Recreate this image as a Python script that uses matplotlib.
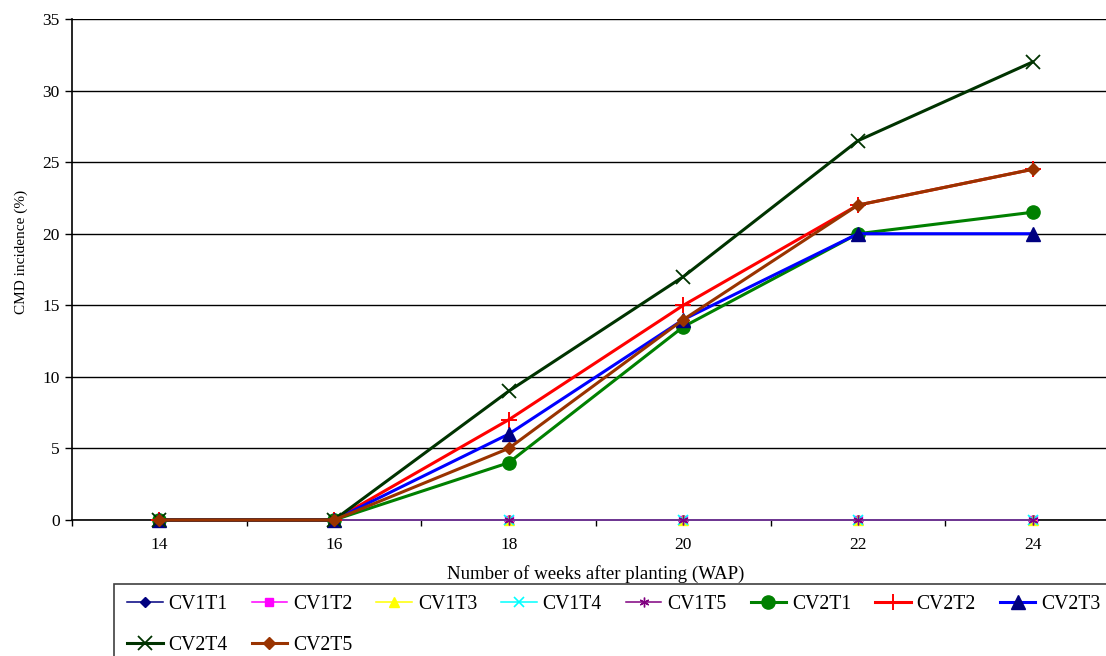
import matplotlib
matplotlib.use("Agg")
import matplotlib.pyplot as plt
from matplotlib.patches import Rectangle
from matplotlib.ticker import FixedLocator

plt.rcParams['font.family'] = ['Liberation Serif', 'DejaVu Serif']

# Weeks after planting (category axis)
weeks = ["14", "16", "18", "20", "22", "24"]

# CMD incidence (%) per treatment
cv1t1 = [0, 0, 0, 0, 0, 0]
cv1t2 = [0, 0, 0, 0, 0, 0]
cv1t3 = [0, 0, 0, 0, 0, 0]
cv1t4 = [0, 0, 0, 0, 0, 0]
cv1t5 = [0, 0, 0, 0, 0, 0]
cv2t1 = [0, 0, 4, 13.5, 20, 21.5]
cv2t2 = [0, 0, 7, 15, 22, 24.5]
cv2t3 = [0, 0, 6, 14, 20, 20]
cv2t4 = [0, 0, 9, 17, 26.5, 32]
cv2t5 = [0, 0, 5, 14, 22, 24.5]

series_names = ["CV1T1", "CV1T2", "CV1T3", "CV1T4", "CV1T5",
                "CV2T1", "CV2T2", "CV2T3", "CV2T4", "CV2T5"]
series_values = [cv1t1, cv1t2, cv1t3, cv1t4, cv1t5,
                 cv2t1, cv2t2, cv2t3, cv2t4, cv2t5]

styles = [
    dict(color="#000080", lw=1.1, marker="D", ms=5, mfc="#000080", mec="#000080"),
    dict(color="#FF00FF", lw=1.1, marker="s", ms=6, mfc="#FF00FF", mec="#FF00FF"),
    dict(color="#FFFF00", lw=1.1, marker="^", ms=6.5, mfc="#FFFF00", mec="#FFFF00"),
    dict(color="#00FFFF", lw=1.1, marker="x", ms=6.5, mfc="#00FFFF", mec="#00FFFF", mew=1.2),
    dict(color="#800080", lw=1.1, marker=(6, 2, 0), ms=7, mfc="#800080", mec="#800080", mew=1.0),
    dict(color="#008000", lw=2.2, marker="o", ms=9.5, mfc="#008000", mec="#008000"),
    dict(color="#FF0000", lw=2.2, marker="+", ms=11, mfc="#FF0000", mec="#FF0000", mew=1.4),
    dict(color="#0000FF", lw=2.2, marker="^", ms=10, mfc="#000080", mec="#000080"),
    dict(color="#003300", lw=2.2, marker="x", ms=9.5, mfc="#003300", mec="#003300", mew=1.3),
    dict(color="#993300", lw=2.2, marker="D", ms=6.5, mfc="#993300", mec="#993300"),
]

W, H = 1106, 656
fig = plt.figure(figsize=(W / 100, H / 100), dpi=100)
ax = fig.add_axes([72 / W, 1 - 520 / H, 1048 / W, 501 / H])

x = list(range(len(weeks)))
handles = []
for name, vals, st in zip(series_names, series_values, styles):
    h, = ax.plot(x, vals, label=name, clip_on=False, zorder=3, **st)
    handles.append(h)

ax.set_xlim(-0.5, len(weeks) - 0.5)
ax.set_ylim(0, 35)
ax.set_yticks(range(0, 36, 5))
ax.set_xticks(x)
ax.set_xticklabels(weeks)
ax.xaxis.set_minor_locator(FixedLocator([i + 0.5 for i in range(-1, len(weeks))]))
ax.tick_params(axis="x", which="major", length=0, labelsize=12.5, pad=12)
ax.tick_params(axis="x", which="minor", length=4, width=1, direction="out", color="black")
ax.tick_params(axis="y", which="major", length=5, width=1, direction="out", labelsize=12.5, pad=4)

ax.grid(axis="y", color="black", lw=1)
ax.set_axisbelow(True)
for side in ("top", "right"):
    ax.spines[side].set_visible(False)
ax.spines["left"].set_linewidth(1.2)
ax.spines["bottom"].set_linewidth(1.2)

fig.text(596 / W, 1 - 574 / H, "Number of weeks after planting (WAP)",
         ha="center", va="center", fontsize=13.6)
fig.text(21 / W, 1 - 252 / H, "CMD incidence (%)", rotation=90,
         ha="center", va="center", fontsize=11)

# Legend frame running past the right and bottom edges
fig.patches.append(Rectangle((114 / W, -0.1), 1.2, (1 - 584 / H) + 0.1,
                             transform=fig.transFigure, fill=False,
                             edgecolor="#404040", lw=1.2))

order = [0, 8, 1, 9, 2, 3, 4, 5, 6, 7]
fig.legend([handles[i] for i in order], [series_names[i] for i in order],
           ncol=8, loc="upper left", bbox_to_anchor=(127 / W, 1 - 595 / H),
           frameon=False, fontsize=14.2, handlelength=1.8, handletextpad=0.3,
           columnspacing=1.22, labelspacing=1.12, borderpad=0, borderaxespad=0)

fig.savefig("out.png", dpi=100)
